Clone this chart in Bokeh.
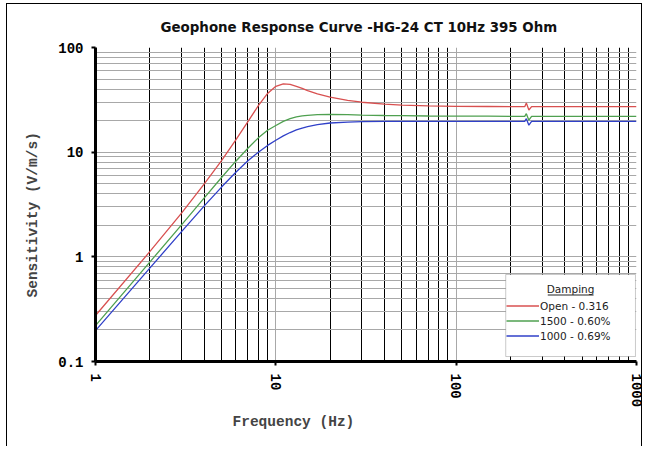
from bokeh.plotting import figure
from bokeh.models import (FixedTicker, NumeralTickFormatter, Title, Legend,
                          LegendItem, Label, BoxAnnotation)
from bokeh.embed import file_html
from bokeh.resources import INLINE

# ---- data ----
freq = [1, 2, 3, 4, 5, 6, 7, 8, 9, 10, 11, 12, 13, 14, 15, 17, 20, 25, 30,
        40, 50, 70, 100, 150, 200, 240, 245, 253, 262, 300, 500, 1000]
open_0316 = [0.275, 1.12, 2.62, 4.95, 8.3, 13.1, 19.6, 27.8, 36.4, 42.6, 45.0,
             44.4, 42.6, 40.6, 38.8, 36.0, 33.5, 31.2, 30.0, 28.8, 28.2, 27.7,
             27.4, 27.3, 27.25, 27.2, 29.5, 25.3, 27.2, 27.2, 27.2, 27.2]
r1500_060 = [0.22, 0.89, 2.02, 3.64, 5.73, 8.2, 10.9, 13.7, 16.2, 18.0, 19.7,
             20.9, 21.7, 22.2, 22.5, 22.8, 22.9, 22.8, 22.6, 22.4, 22.3, 22.15,
             22.1, 22.05, 22.0, 22.0, 23.3, 20.2, 22.0, 22.0, 22.0, 22.0]
r1000_069 = [0.197, 0.78, 1.74, 3.05, 4.64, 6.42, 8.27, 10.0, 11.6, 13.0, 14.3,
             15.4, 16.3, 17.0, 17.5, 18.3, 19.0, 19.4, 19.55, 19.65, 19.7, 19.7,
             19.7, 19.7, 19.7, 19.7, 20.9, 18.1, 19.7, 19.7, 19.7, 19.7]
series_labels = ["Open - 0.316", "1500 - 0.60%", "1000 - 0.69%"]
series_colors = ["#d85050", "#4fa050", "#3040c8"]
legend_title = "Damping"

x_major = [1, 10, 100, 1000]
x_minor = [2, 3, 4, 5, 6, 7, 8, 9, 20, 30, 40, 50, 60, 70, 80, 90,
           200, 300, 400, 500, 600, 700, 800, 900]
y_major = [0.1, 1, 10, 100]
y_minor = [0.2, 0.3, 0.4, 0.5, 0.6, 0.7, 0.8, 0.9, 2, 3, 4, 5, 6, 7, 8, 9,
           20, 30, 40, 50, 60, 70, 80, 90]

MONO = "Liberation Mono"
SANS = "DejaVu Sans"

p = figure(width=636, height=443, x_axis_type="log", y_axis_type="log",
           x_range=(1, 1000), y_range=(0.1, 100),
           output_backend="svg", toolbar_location=None,
           min_border_left=87, min_border_right=7,
           min_border_top=43, min_border_bottom=86)
p.styles = {"margin-left": "6px", "margin-top": "3px",
            "border-left": "1px solid black", "border-top": "1px solid black",
            "border-right": "1px solid black"}
p.outline_line_color = None
p.background_fill_color = "white"
p.border_fill_color = "white"

p.title.text = "Geophone Response Curve -HG-24 CT 10Hz 395 Ohm"
p.title.align = "left"
p.title.offset = 65
p.title.text_font = SANS
p.title.text_font_size = "13.4px"
p.title.text_font_style = "bold"
p.title.text_color = "#111111"
p.title.standoff = 26

for ax, maj, mnr in ((p.xaxis, x_major, x_minor), (p.yaxis, y_major, y_minor)):
    ax.ticker = FixedTicker(ticks=maj, minor_ticks=mnr)
    ax.formatter = NumeralTickFormatter(format="0.[0]")
    ax.axis_line_width = 3
    ax.axis_line_color = "black"
    ax.major_tick_in = 0
    ax.major_tick_out = 4
    ax.major_tick_line_width = 2
    ax.major_tick_line_color = "black"
    ax.minor_tick_line_color = None
    ax.major_label_text_font = MONO
    ax.major_label_text_font_style = "bold"
    ax.major_label_text_font_size = "14px"
    ax.major_label_text_color = "black"

p.xaxis.major_label_orientation = "vertical"
p.xaxis.major_label_standoff = 8
p.yaxis.major_label_standoff = 8

p.add_layout(Title(text="Sensitivity (V/m/s)", align="left", offset=64,
                   text_font=MONO, text_font_style="bold",
                   text_font_size="14.5px", standoff=30), "left")

p.add_layout(Title(text="Frequency (Hz)", align="left", offset=137,
                   text_font=MONO, text_font_style="bold",
                   text_font_size="14.5px", standoff=2), "below")

p.ygrid.grid_line_color = "#a8a8a8"
p.ygrid.minor_grid_line_color = "#a8a8a8"
p.xgrid.grid_line_color = "#a8a8a8"
p.xgrid.minor_grid_line_color = "black"

renderers = []
for vals, col in zip((open_0316, r1500_060, r1000_069), series_colors):
    renderers.append(p.line(freq, vals, line_color=col, line_width=1.3))

# legend backing box (white with a grey frame), heading and underline
p.add_layout(BoxAnnotation(left=188.3, right=987, bottom=0.1116, top=0.678,
                           level="overlay", fill_color="white", fill_alpha=1,
                           line_color="#505050", line_width=1))
p.add_layout(Label(x=431, y=0.4929, text=legend_title, text_align="center",
                   level="overlay", text_baseline="middle",
                   text_font=SANS, text_font_size="10.5px",
                   text_color="#222222"))
p.add_layout(BoxAnnotation(left=322, right=578, bottom=0.4272, top=0.4365,
                           level="overlay", fill_color="#222222",
                           fill_alpha=1, line_color=None))

items = [LegendItem(label=lab, renderers=[r]) for lab, r in zip(series_labels, renderers)]
legend = Legend(items=items, location=(411, 18),
                label_text_font=SANS, label_text_font_size="10.5px",
                label_text_color="#222222",
                glyph_width=33, glyph_height=15, label_height=15,
                label_standoff=1, spacing=0, padding=3, margin=0,
                border_line_color=None, background_fill_alpha=0)
p.add_layout(legend)

open("out.html", "w").write(file_html(p, INLINE))
